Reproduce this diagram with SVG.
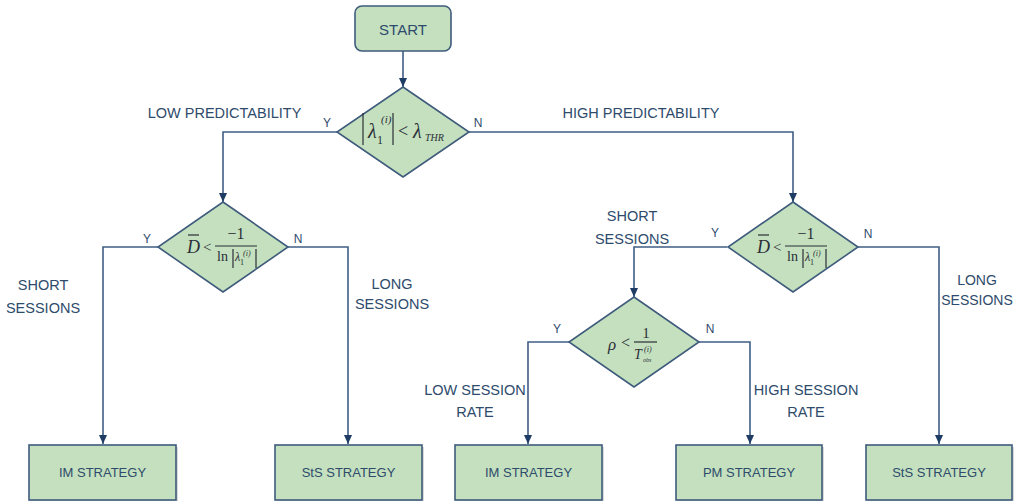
<svg xmlns="http://www.w3.org/2000/svg" width="1015" height="501" viewBox="0 0 1015 501">
  <defs>
    <marker id="ah" markerUnits="userSpaceOnUse" markerWidth="10" markerHeight="10" refX="9" refY="5" orient="auto" viewBox="0 0 10 10">
      <path d="M0,1 L9,5 L0,9 Z" fill="#1e3c64"/>
    </marker>
  </defs>
  <style>
    .box { fill: #c4e0be; stroke: #3e5b7c; stroke-width: 1.6; }
    .shadow { fill: #b4b4b4; opacity: 0.5; }
    .lbl { font-family: "Liberation Sans", Arial, sans-serif; font-size: 14.5px; fill: #2e4b6c; text-anchor: middle; }
    .yn { font-family: "Liberation Sans", Arial, sans-serif; font-size: 12px; fill: #2e4b6c; text-anchor: middle; }
    .btxt { font-family: "Liberation Sans", Arial, sans-serif; font-size: 13px; fill: #2e4b6c; text-anchor: middle; }
    .conn { fill: none; stroke: #3f5e85; stroke-width: 1.6; marker-end: url(#ah); }
    .m { font-family: "Liberation Serif", "Times New Roman", serif; fill: #2a2e38; }
    .mi { font-family: "Liberation Serif", "Times New Roman", serif; font-style: italic; fill: #2a2e38; }
    .mline { stroke: #2a2e38; stroke-width: 1.2; }
  </style>

  <!-- connectors -->
  <g id="connectors">
    <path class="conn" d="M403,51 V87"/>
    <path class="conn" d="M337,132 H223 V202"/>
    <path class="conn" d="M468,132 H793 V202"/>
    <path class="conn" d="M158,247 H103 V444"/>
    <path class="conn" d="M288,247 H348 V444"/>
    <path class="conn" d="M727,247 H634 V297"/>
    <path class="conn" d="M857,247 H939 V444"/>
    <path class="conn" d="M569,342 H528 V444"/>
    <path class="conn" d="M699,342 H750 V444"/>
  </g>

  <!-- branch labels -->
  <g id="labels">
    <text class="lbl" x="224.5" y="118">LOW PREDICTABILITY</text>
    <text class="lbl" x="641" y="118">HIGH PREDICTABILITY</text>
    <text class="lbl" x="43" y="290">SHORT</text>
    <text class="lbl" x="43" y="313">SESSIONS</text>
    <text class="lbl" x="392" y="289">LONG</text>
    <text class="lbl" x="392" y="309">SESSIONS</text>
    <text class="lbl" x="632" y="221">SHORT</text>
    <text class="lbl" x="632" y="244">SESSIONS</text>
    <text class="lbl" x="977" y="285" style="font-size:14px">LONG</text>
    <text class="lbl" x="977" y="305" style="font-size:14px">SESSIONS</text>
    <text class="lbl" x="475" y="395">LOW SESSION</text>
    <text class="lbl" x="475" y="417">RATE</text>
    <text class="lbl" x="806" y="395">HIGH SESSION</text>
    <text class="lbl" x="806" y="417">RATE</text>
    <text class="yn" x="327" y="127">Y</text>
    <text class="yn" x="478" y="127">N</text>
    <text class="yn" x="147" y="243">Y</text>
    <text class="yn" x="298" y="243">N</text>
    <text class="yn" x="715" y="237">Y</text>
    <text class="yn" x="868" y="238">N</text>
    <text class="yn" x="557" y="333">Y</text>
    <text class="yn" x="710" y="333">N</text>
  </g>

  <!-- start -->
  <g id="start">
    <rect class="box" x="355" y="6" width="96" height="45" rx="7" ry="7"/>
    <text class="lbl" x="403" y="35" style="font-size:15px">START</text>
  </g>

  <!-- predictability test -->
  <g id="dec-predictability">
    <polygon class="box" points="403,87 469,132 403,177 337,132"/>
    <line class="mline" x1="363" y1="113" x2="363" y2="145"/>
    <text class="mi" x="368" y="138" font-size="20">λ</text>
    <text class="m" x="377" y="144" font-size="12">1</text>
    <text class="mi" x="381" y="123" font-size="11">(i)</text>
    <line class="mline" x1="393" y1="113" x2="393" y2="145"/>
    <text class="m" x="398" y="137" font-size="18">&lt;</text>
    <text class="mi" x="413" y="138" font-size="20">λ</text>
    <text class="mi" x="425" y="141" font-size="10">THR</text>
  </g>

  <!-- session length test, low predictability -->
  <g id="dec-duration-left">
    <polygon class="box" points="223,202 288,247 223,292 158,247"/>
    <text class="mi" x="187" y="253" font-size="18">D</text>
    <line class="mline" x1="188" y1="235" x2="199" y2="235"/>
    <text class="m" x="203" y="252" font-size="15">&lt;</text>
    <line class="mline" x1="215" y1="246" x2="257" y2="246"/>
    <text class="m" x="236" y="239" font-size="16" text-anchor="middle">−1</text>
    <text class="m" x="217" y="261" font-size="14">ln</text>
    <line class="mline" x1="233" y1="249" x2="233" y2="268"/>
    <text class="mi" x="235" y="261" font-size="12">λ</text>
    <text class="m" x="240" y="265" font-size="8">1</text>
    <text class="mi" x="243" y="256" font-size="8">(i)</text>
    <line class="mline" x1="256" y1="249" x2="256" y2="268"/>
  </g>

  <!-- session length test, high predictability -->
  <g id="dec-duration-right">
    <polygon class="box" points="793,202 858,247 793,292 728,247"/>
    <text class="mi" x="757" y="253" font-size="18">D</text>
    <line class="mline" x1="758" y1="235" x2="769" y2="235"/>
    <text class="m" x="773" y="252" font-size="15">&lt;</text>
    <line class="mline" x1="785" y1="246" x2="827" y2="246"/>
    <text class="m" x="806" y="239" font-size="16" text-anchor="middle">−1</text>
    <text class="m" x="787" y="261" font-size="14">ln</text>
    <line class="mline" x1="803" y1="249" x2="803" y2="268"/>
    <text class="mi" x="805" y="261" font-size="12">λ</text>
    <text class="m" x="810" y="265" font-size="8">1</text>
    <text class="mi" x="813" y="256" font-size="8">(i)</text>
    <line class="mline" x1="826" y1="249" x2="826" y2="268"/>
  </g>

  <!-- session rate test -->
  <g id="dec-rate">
    <polygon class="box" points="634,297 699,342 634,387 569,342"/>
    <text class="mi" x="608" y="350" font-size="17">ρ</text>
    <text class="m" x="621" y="348" font-size="16">&lt;</text>
    <line class="mline" x1="634" y1="342" x2="657" y2="342"/>
    <text class="m" x="646" y="338" font-size="15" text-anchor="middle">1</text>
    <text class="mi" x="634" y="359" font-size="14">T</text>
    <text class="mi" x="644" y="352" font-size="8">(i)</text>
    <text class="mi" x="643" y="362" font-size="6">obs</text>
  </g>

  <!-- strategies -->
  <g id="im-left">
    <rect class="shadow" x="31" y="447" width="147" height="55"/>
    <rect class="box" x="29" y="445" width="147" height="55"/>
    <text class="btxt" x="102.5" y="477">IM STRATEGY</text>
  </g>
  <g id="sts-left">
    <rect class="shadow" x="277" y="447" width="147" height="55"/>
    <rect class="box" x="275" y="445" width="147" height="55"/>
    <text class="btxt" x="348.5" y="477">StS STRATEGY</text>
  </g>
  <g id="im-mid">
    <rect class="shadow" x="457" y="447" width="147" height="55"/>
    <rect class="box" x="455" y="445" width="147" height="55"/>
    <text class="btxt" x="528.5" y="477">IM STRATEGY</text>
  </g>
  <g id="pm">
    <rect class="shadow" x="678" y="447" width="146" height="55"/>
    <rect class="box" x="676" y="445" width="146" height="55"/>
    <text class="btxt" x="749" y="477">PM STRATEGY</text>
  </g>
  <g id="sts-right">
    <rect class="shadow" x="868" y="447" width="146" height="55"/>
    <rect class="box" x="866" y="445" width="146" height="55"/>
    <text class="btxt" x="939" y="477">StS STRATEGY</text>
  </g>
</svg>
